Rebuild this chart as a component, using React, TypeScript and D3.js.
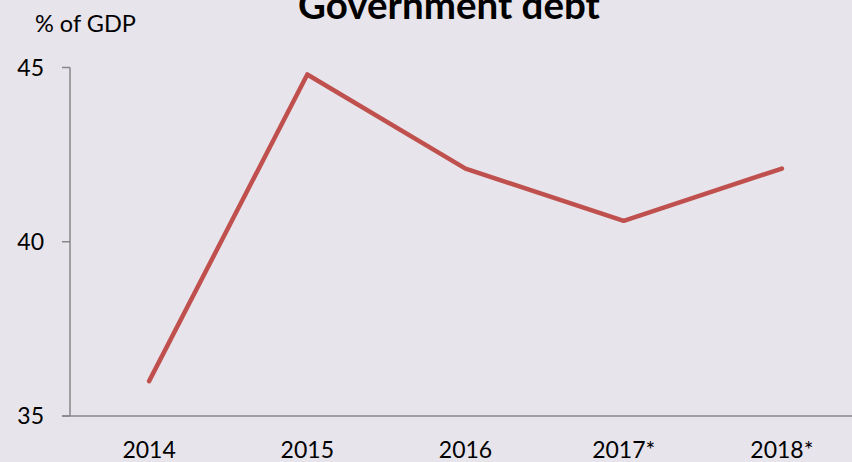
import React from "react";
import * as d3 from "d3";

const categories = ["2014", "2015", "2016", "2017*", "2018*"];
const debtValues = [36.0, 44.8, 42.1, 40.6, 42.1];
const yTicks = [35, 40, 45];

const W = 852;
const H = 462;
const FONT = "Lato, 'Open Sans', sans-serif";

export default function App() {
  const x = d3.scaleBand<string>().domain(categories).range([70, 861]);
  const y = d3.scaleLinear().domain([35, 45]).range([416, 67.5]);
  const cx = (c: string) => (x(c) ?? 0) + x.bandwidth() / 2;
  const line = d3
    .line<number>()
    .x((_, i) => cx(categories[i]))
    .y((d) => y(d));

  return (
    <svg
      width={W}
      height={H}
      style={{ position: "absolute", left: 0, top: 0, display: "block" }}
    >
      <rect x={0} y={0} width={W} height={H} fill="#E7E4EB" />
      <text
        x={449}
        y={19}
        textAnchor="middle"
        fontFamily={FONT}
        fontWeight="bold"
        fontSize={38.5}
        fill="#000"
      >
        Government debt
      </text>
      <text x={35} y={32} fontFamily={FONT} fontSize={23.5} fill="#000">
        % of GDP
      </text>
      {/* y axis */}
      <line x1={70} x2={70} y1={y(45)} y2={y(35)} stroke="#878787" strokeWidth={1.5} />
      {yTicks.map((t) => (
        <g key={t}>
          <line x1={62} x2={70} y1={y(t)} y2={y(t)} stroke="#878787" strokeWidth={1.5} />
          <text
            x={44}
            y={y(t) + 8}
            textAnchor="end"
            fontFamily={FONT}
            fontSize={23}
            fill="#000"
          >
            {t}
          </text>
        </g>
      ))}
      {/* x axis */}
      <line x1={62} x2={W} y1={y(35)} y2={y(35)} stroke="#878787" strokeWidth={1.5} />
      {categories.map((c) => (
        <text
          key={c}
          x={cx(c)}
          y={458}
          textAnchor="middle"
          fontFamily={FONT}
          fontSize={23}
          fill="#000"
        >
          {c}
        </text>
      ))}
      <path
        d={line(debtValues) ?? ""}
        fill="none"
        stroke="#C0504D"
        strokeWidth={4.5}
        strokeLinejoin="round"
        strokeLinecap="round"
      />
    </svg>
  );
}
